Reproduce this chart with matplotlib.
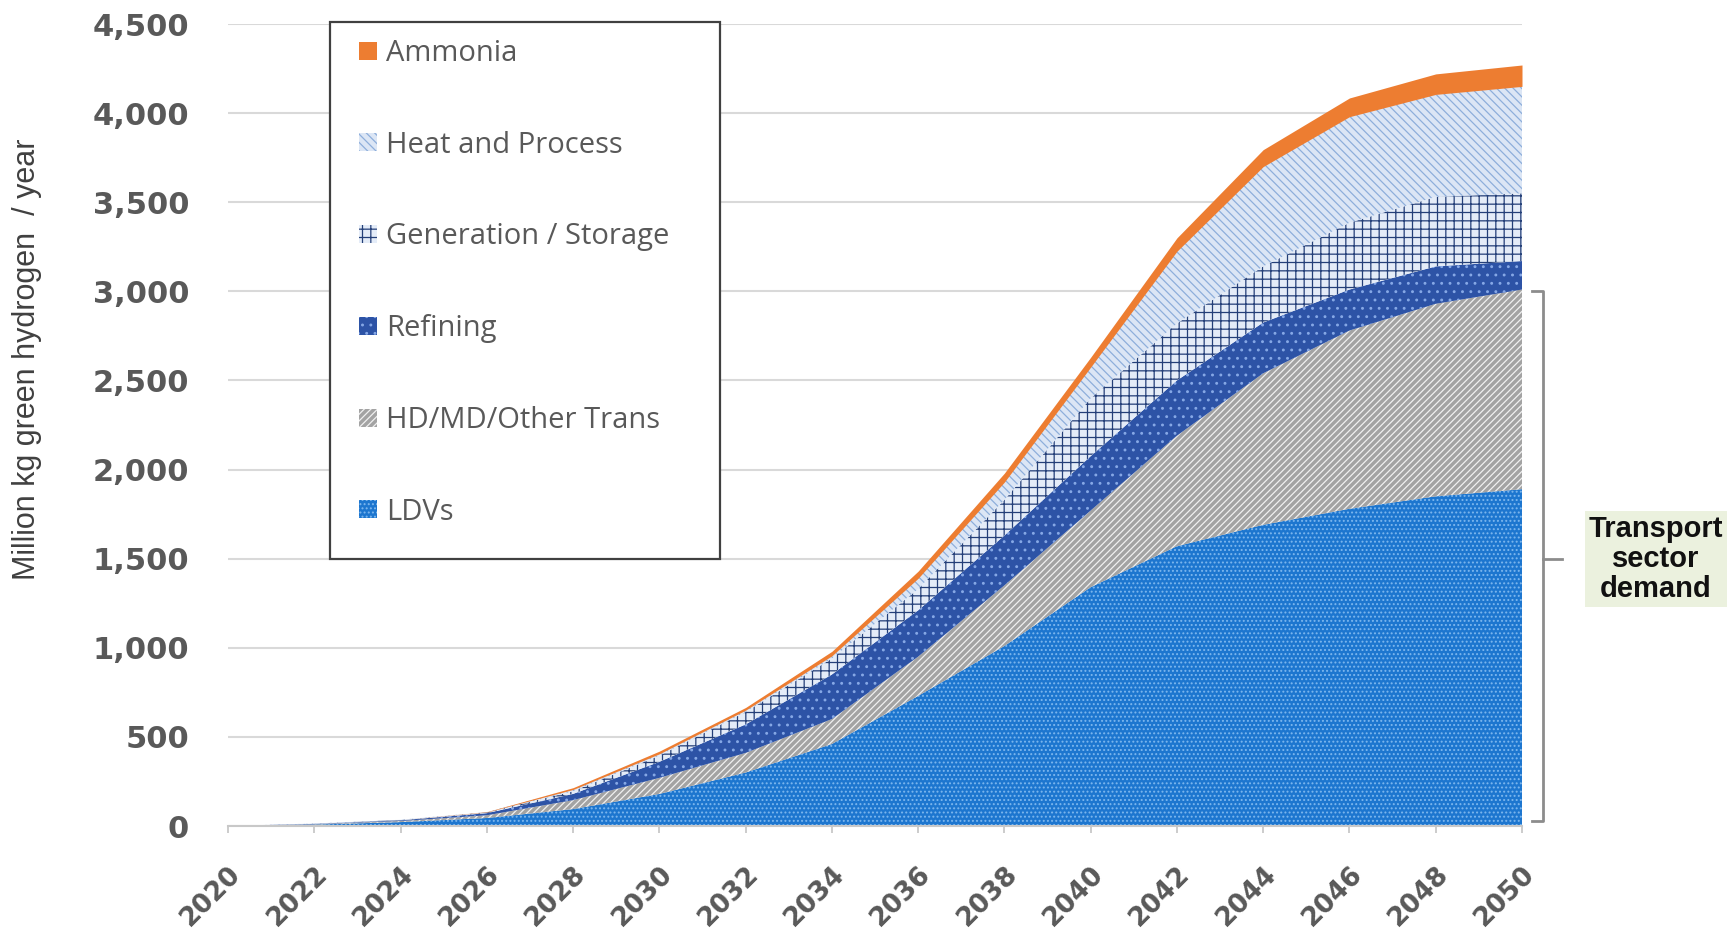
import numpy as np
import matplotlib
matplotlib.use("Agg")
import matplotlib.pyplot as plt
from matplotlib.patches import Patch, Rectangle
import matplotlib.transforms as mtransforms

# ---------------- data ----------------
years = [2020, 2022, 2024, 2026, 2028, 2030, 2032, 2034, 2036, 2038, 2040,
         2042, 2044, 2046, 2048, 2050]
ldvs = [0, 8, 22, 45, 95, 180, 300, 460, 730, 1010, 1340, 1570, 1690, 1780, 1850, 1890]
hd_md_other = [0, 2, 6, 15, 50, 90, 110, 140, 220, 340, 430, 620, 850, 1000, 1080, 1120]
refining = [0, 2, 4, 12, 35, 90, 160, 250, 260, 280, 305, 310, 285, 230, 210, 160]
generation_storage = [0, 1, 2, 4, 15, 35, 70, 90, 120, 200, 325, 320, 315, 375, 390, 380]
heat_process = [0, 1, 1, 2, 10, 10, 10, 15, 60, 100, 175, 405, 560, 595, 575, 600]
ammonia = [0, 0, 0, 2, 10, 15, 15, 25, 40, 50, 55, 75, 95, 105, 115, 120]

series_labels = ["LDVs", "HD/MD/Other Trans", "Refining",
                 "Generation / Storage", "Heat and Process", "Ammonia"]
y_ticks = [0, 500, 1000, 1500, 2000, 2500, 3000, 3500, 4000, 4500]
x_ticks = years
y_label = "Million kg green hydrogen  / year"
note_text = "Transport\nsector\ndemand"
bracket_top, bracket_mid, bracket_bottom = 3000, 1500, 30

# ---------------- styles ----------------
styles = [
    dict(facecolor="#1d76cf", edgecolor="#7db7ee", hatch="...."),   # LDVs
    dict(facecolor="#a3a3a3", edgecolor="#f0f0f0", hatch="/////"),  # HD/MD
    dict(facecolor="#2d53a6", edgecolor="#86a8e6", hatch=".."),     # Refining
    dict(facecolor="#e4ecf8", edgecolor="#243f78", hatch="++"),     # Generation
    dict(facecolor="#dce6f5", edgecolor="#8eaedb", hatch="\\\\\\\\"),  # Heat
    dict(facecolor="#ed7d31", edgecolor="#ed7d31", hatch=None),     # Ammonia
]

plt.rcParams["hatch.linewidth"] = 0.9
W, H = 1728, 935
fig = plt.figure(figsize=(W / 100, H / 100), dpi=100)
fig.patch.set_facecolor("white")
ax_left, ax_right, ax_top, ax_bot = 228, 1522, 24, 826
ax = fig.add_axes([ax_left / W, 1 - ax_bot / H, (ax_right - ax_left) / W, (ax_bot - ax_top) / H])

series = [ldvs, hd_md_other, refining, generation_storage, heat_process, ammonia]
x = np.array(years, dtype=float)
base = np.zeros(len(years))
handles = []
for vals, st, lab in zip(series, styles, series_labels):
    top = base + np.array(vals, dtype=float)
    ax.fill_between(x, base, top, facecolor=st["facecolor"], edgecolor=st["edgecolor"],
                    hatch=st["hatch"], linewidth=0, zorder=2)
    handles.append(Patch(facecolor=st["facecolor"], edgecolor=st["edgecolor"],
                         hatch=st["hatch"], linewidth=0, label=lab))
    base = top

ax.set_xlim(2020, 2050)
ax.set_ylim(0, 4500)
for s in ["top", "right", "left"]:
    ax.spines[s].set_visible(False)
ax.spines["bottom"].set_color("#c8c8c8")
ax.spines["bottom"].set_linewidth(1.5)
ax.spines["bottom"].set_zorder(3)
ax.yaxis.grid(True, color="#d9d9d9", linewidth=1.5)
ax.set_axisbelow(True)

ax.set_yticks(y_ticks, labels=[f"{v:,}" for v in y_ticks], fontsize=22,
              fontweight="bold", color="#595959")
ax.tick_params(axis="y", length=0, pad=28)
ax.set_xticks(x_ticks, labels=[str(v) for v in x_ticks], fontsize=19, fontweight="bold",
              color="#595959", rotation=45, ha="right", va="top", rotation_mode="anchor")
ax.tick_params(axis="x", length=5, width=1.3, color="#c8c8c8", pad=20)

fig.text(27.5 / W, 1 - 359 / H, y_label, rotation=90, ha="center", va="center",
         fontsize=22, color="#404040", family=["Liberation Sans", "DejaVu Sans"])

# legend frame (white box)
frame = Rectangle((329.5 / W, 1 - 558.7 / H), (719.6 - 329.5) / W, (558.7 - 22) / H,
                  transform=fig.transFigure, facecolor="white", edgecolor="#404040",
                  linewidth=1.6, zorder=4, clip_on=False)
ax.add_patch(frame)
leg = ax.legend(handles[::-1], series_labels[::-1], loc="upper left",
                bbox_to_anchor=(359 / W, 1 - 39 / H), bbox_transform=fig.transFigure,
                frameon=False, prop={"family": "Open Sans", "size": 21},
                labelcolor="#595959", labelspacing=2.15, handlelength=0.6,
                handleheight=0.57, handletextpad=0.32, borderaxespad=0, borderpad=0)
leg.set_zorder(5)

# bracket for transport sector
tr = mtransforms.blended_transform_factory(ax.transAxes, ax.transData)
xb0, xb1, xb2 = 1.0077, 1.016, 1.031
ax.plot([xb0, xb1, xb1, xb0], [bracket_top, bracket_top, bracket_bottom, bracket_bottom],
        transform=tr, color="#8c8c8c", lw=2, clip_on=False, solid_joinstyle="round")
ax.plot([xb1, xb2], [bracket_mid, bracket_mid], transform=tr, color="#8c8c8c", lw=2,
        clip_on=False)

fig.text(1656 / W, 1 - 559 / H, note_text, ha="center", va="center", fontsize=21,
         fontweight="bold", color="#111111", linespacing=1.1,
         family=["Liberation Sans", "DejaVu Sans"],
         bbox=dict(boxstyle="square,pad=0.12", facecolor="#ebf1de", edgecolor="none"))

fig.savefig("out.png", dpi=100, facecolor="white")
